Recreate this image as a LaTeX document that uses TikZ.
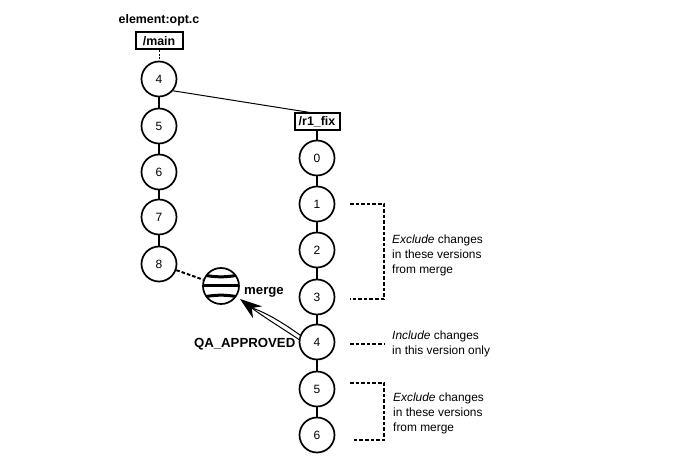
\documentclass[tikz,border=0pt]{standalone}
\usepackage{fontspec}
\setmainfont{Liberation Sans}
\usetikzlibrary{arrows.meta}

\tikzset{
  ver/.style={circle, draw, line width=1.7pt, minimum size=35pt, inner sep=0pt, font=\fontsize{12}{12}\selectfont},
  branch/.style={draw, line width=2pt, inner sep=0pt, minimum height=17pt, font=\fontsize{12.4}{12.4}\selectfont\bfseries},
  stem/.style={line width=2.8pt},
  bracket/.style={line width=1.3pt, dash pattern=on 3.6pt off 2pt},
  note/.style={align=left, anchor=west, inner sep=0pt, font=\fontsize{11.9}{15}\selectfont},
  tag/.style={inner sep=0pt, font=\fontsize{13.2}{13.2}\selectfont\bfseries}
}

\begin{document}
\begin{tikzpicture}
  [x=1pt,y=-1pt]
  \useasboundingbox (0,0) rectangle (673,468);

  \node[tag, font=\fontsize{12.4}{12.4}\selectfont\bfseries] (elem) at (159,20.5) {element:opt.c};
  \node[branch, minimum width=47pt] (main) at (159,41) {/main};
  \node[branch, minimum width=45pt] (fix) at (317,122) {/r1\_fix};

  \foreach \n/\y in {4/79,5/126,6/172,7/217,8/264}
    \node[ver] (m\n) at (159,\y) {\n};
  \foreach \n/\y in {0/158,1/204,2/250,3/297,4/342,5/389,6/435}
    \node[ver] (f\n) at (317,\y) {\n};

  \foreach \from/\to in {m4/m5,m5/m6,m6/m7,m7/m8,fix/f0,f0/f1,f1/f2,f2/f3,f3/f4,f4/f5,f5/f6}
    \draw[stem] (\from) -- (\to);
  \draw[dashed, line width=.8pt, dash pattern=on 2pt off 1.5pt] (main) -- (m4);
  \draw[line width=1pt] (m4.-40) -- ([xshift=-7pt]fix.north);

  % merge ball
  \node[circle, draw, line width=1.7pt, minimum size=36pt, inner sep=0pt, path picture={
      \draw[line width=3pt] ([yshift=-11pt]path picture bounding box.west) to[bend left=10] ([yshift=-11pt]path picture bounding box.east);
      \draw[line width=3pt] (path picture bounding box.west) -- (path picture bounding box.east);
      \draw[line width=3pt] ([yshift=11pt]path picture bounding box.west) to[bend right=10] ([yshift=11pt]path picture bounding box.east);
    }] (merge) at (221,286) {};
  \node[tag] (mlabel) at (264,292.5) {merge};
  \node[tag, anchor=east] (qa) at (295.5,344) {QA\_APPROVED};

  \draw[line width=2pt, dash pattern=on 3.6pt off 2pt] (m8) -- (merge);
  \coordinate (tip) at (240,299);
  \draw[line width=1pt] (f4.158) .. controls (285,324) and (265,312) .. (252,308);
  \draw[line width=1pt, -{Stealth[length=22pt,width=15pt]}] (f4.172) .. controls (285,330) and (265,318) .. (tip);

  % brackets
  \coordinate (a1) at (350,204);
  \coordinate (a2) at (384,204);
  \coordinate (a3) at (384,299);
  \coordinate (a4) at (350,299);
  \coordinate (b1) at (350,344);
  \coordinate (b2) at (384,344);
  \coordinate (c1) at (350,383);
  \coordinate (c2) at (384,383);
  \coordinate (c3) at (384,440);
  \coordinate (c4) at (352,440);
  \draw[bracket] (a1) -- (a2) -- (a3) -- (a4);
  \draw[bracket] (b1) -- (b2);
  \draw[bracket] (c1) -- (c2) -- (c3) -- (c4);

  \node[note] (n1) at (392,255.5) {\textit{Exclude} changes\\in these versions\\from merge};
  \node[note] (n2) at (392,344) {\textit{Include} changes\\in this version only};
  \node[note] (n3) at (393,413.5) {\textit{Exclude} changes\\in these versions\\from merge};
\end{tikzpicture}
\end{document}
